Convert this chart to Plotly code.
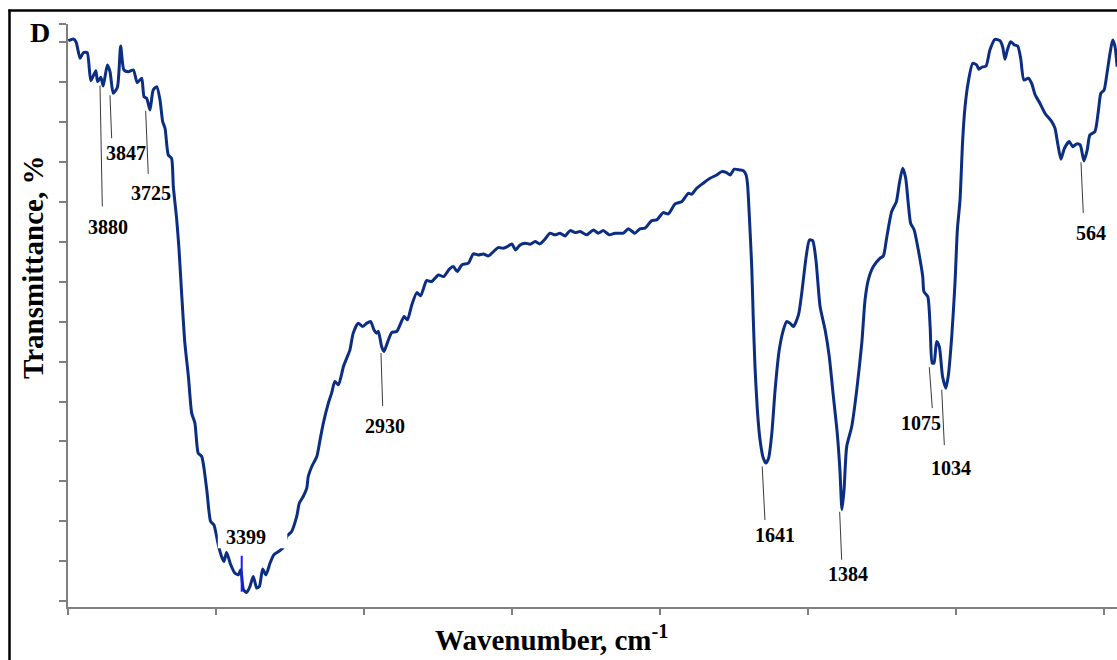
import numpy as np
import plotly.graph_objects as go

# FTIR spectrum, sample D
wavenumber = [
    3999, 3982, 3973, 3959, 3948, 3935, 3923, 3906, 3900, 3889, 3881, 3867, 3858, 3847, 3833,
    3822, 3811, 3796, 3779, 3766, 3751, 3743, 3734, 3723, 3712, 3700, 3689, 3680, 3672, 3661,
    3650, 3644, 3633, 3625, 3616, 3605, 3593, 3582, 3571, 3560, 3548, 3531, 3518, 3507, 3492,
    3481, 3473, 3464, 3450, 3436, 3424, 3416, 3407, 3396, 3385, 3374, 3362, 3353, 3342, 3331,
    3317, 3304, 3283, 3270, 3261, 3244, 3227, 3218, 3205, 3193, 3188, 3176, 3159, 3148, 3137,
    3120, 3109, 3098, 3086, 3069, 3058, 3047, 3036, 3019, 3004, 2990, 2977, 2966, 2957, 2951,
    2940, 2932, 2921, 2906, 2889, 2864, 2853, 2838, 2821, 2808, 2788, 2771, 2748, 2731, 2711,
    2698, 2684, 2669, 2647, 2630, 2613, 2596, 2579, 2562, 2546, 2529, 2515, 2500, 2487, 2472,
    2455, 2438, 2421, 2405, 2388, 2371, 2354, 2337, 2320, 2303, 2286, 2269, 2247, 2224, 2208,
    2191, 2170, 2151, 2123, 2106, 2084, 2067, 2050, 2027, 2010, 1988, 1971, 1948, 1926, 1903,
    1892, 1875, 1853, 1830, 1807, 1791, 1774, 1762, 1748, 1729, 1717, 1708, 1703, 1697, 1689,
    1684, 1678, 1670, 1661, 1650, 1641, 1632, 1621, 1610, 1596, 1582, 1571, 1560, 1548, 1531,
    1520, 1505, 1494, 1483, 1472, 1458, 1441, 1427, 1413, 1400, 1391, 1384, 1377, 1368, 1351,
    1334, 1317, 1306, 1295, 1278, 1255, 1244, 1233, 1216, 1200, 1190, 1179, 1169, 1160, 1152,
    1140, 1126, 1111, 1107, 1094, 1086, 1079, 1073, 1064, 1055, 1044, 1033, 1025, 1013, 1002,
    994, 985, 976, 968, 957, 942, 929, 921, 912, 897, 884, 867, 850, 841, 833,
    825, 814, 801, 790, 780, 769, 754, 743, 731, 715, 698, 675, 664, 655, 644,
    632, 616, 604, 591, 579, 566, 555, 546, 529, 517, 509, 498, 489, 478, 469,
    461, 454,
]
transmittance = [
    90.12, 90.34, 90.00, 87.92, 88.62, 88.62, 85.12, 86.37, 85.00, 85.55, 84.46, 87.08, 86.25, 83.55, 84.30,
    89.46, 86.46, 86.25, 86.46, 84.87, 85.42, 83.12, 82.92, 81.46, 83.96, 84.37, 82.71, 80.00, 79.17, 75.83,
    75.42, 71.87, 67.92, 64.17, 58.55, 52.30, 48.12, 43.55, 42.30, 38.55, 38.12, 33.96, 30.00, 29.58, 27.08,
    25.62, 25.00, 26.12, 24.58, 23.55, 23.33, 23.96, 21.46, 21.12, 21.87, 23.12, 21.67, 21.87, 24.05, 23.33,
    24.80, 25.83, 26.37, 26.87, 28.12, 28.75, 30.62, 32.30, 33.12, 34.17, 35.62, 36.87, 38.12, 40.21, 42.30,
    44.80, 46.05, 47.50, 47.08, 49.37, 50.42, 51.46, 53.55, 54.80, 54.37, 54.80, 55.00, 53.96, 53.55, 53.75,
    51.87, 51.25, 52.30, 53.62, 53.75, 55.62, 55.21, 57.08, 58.62, 58.21, 60.12, 60.00, 60.83, 60.62, 61.55,
    61.87, 61.25, 62.08, 62.30, 63.46, 63.33, 63.46, 63.21, 63.75, 64.25, 64.17, 64.37, 64.71, 63.96, 64.58,
    64.80, 64.67, 65.00, 64.71, 65.30, 66.05, 65.84, 66.05, 65.71, 66.37, 66.12, 66.25, 65.84, 66.46, 66.05,
    66.37, 65.84, 66.05, 66.05, 66.59, 66.05, 66.59, 66.67, 67.62, 67.71, 68.62, 68.46, 69.71, 69.99, 71.05,
    70.92, 71.67, 72.30, 72.92, 73.33, 73.75, 73.62, 73.33, 74.05, 73.96, 73.87, 73.33, 72.08, 68.12, 61.87,
    55.62, 49.37, 43.96, 40.21, 37.92, 37.30, 37.92, 41.05, 46.46, 51.46, 53.96, 55.00, 54.80, 54.37, 55.83,
    58.55, 63.12, 65.21, 65.12, 62.71, 56.87, 53.96, 50.62, 45.62, 41.05, 36.46, 31.46, 33.96, 39.37, 41.87,
    46.46, 52.30, 57.71, 60.21, 61.87, 62.92, 63.21, 65.46, 68.75, 70.00, 72.30, 74.17, 73.02, 69.80, 67.30,
    66.46, 63.96, 60.62, 58.75, 58.12, 54.37, 49.80, 49.80, 52.50, 51.87, 48.12, 46.67, 48.12, 53.12, 59.80,
    66.46, 70.21, 77.71, 81.87, 85.00, 87.30, 87.09, 86.55, 86.80, 86.96, 88.96, 90.30, 90.12, 89.37, 87.80,
    88.96, 90.00, 89.58, 89.46, 87.92, 85.21, 85.42, 84.80, 83.34, 82.30, 81.05, 80.00, 79.17, 77.30, 75.30,
    76.67, 77.50, 76.87, 77.21, 77.09, 75.09, 76.46, 78.34, 78.75, 81.46, 83.55, 83.96, 85.84, 88.55, 90.21,
    89.37, 86.87,
]

# labelled band positions, cm-1
peak_labels = [3880, 3847, 3725, 3399, 2930, 1641, 1384, 1075, 1034, 564]

# axis scales
x_ticks = [4000, 3500, 3000, 2500, 2000, 1500, 1000, 500]
x_range = [4000, 454.4]
y_ticks = [20, 25, 30, 35, 40, 45, 50, 55, 60, 65, 70, 75, 80, 85, 90, 92.2]
y_range = [19.3, 92.21]

W, H = 1117, 660
ML, MR, MT, MB = 68, 0, 24, 53

LINE_COLOR = "#0b2d82"
SERIF = "Liberation Serif"

# leader-line and label placement in pixels relative to the band point on the curve:
# (line dx top, line dx bottom, gap below curve, line bottom, text dx, text dy)
leader_style = {
    3880: (-3.5, -1.2, 1.0, 122, 4.5, 143),
    3847: (-3.3, -1.6, 2.0, 45, 12.7, 60),
    3725: (-3.7, -1.1, 3.0, 66, 1.6, 85),
    2930: (-3.6, -1.9, 3.0, 56, 0.4, 76),
    1641: (-3.7, -1.0, 3.4, 57, 9.0, 72),
    1384: (-2.3, -0.3, 2.0, 50, 5.7, 64),
    1075: (-4.1, -1.1, 4.0, 45, -12.4, 60),
    1034: (-3.8, -1.2, 2.7, 58, 5.0, 81),
    564: (-3.6, -1.3, 3.4, 54, 6.1, 74),
}

wn_arr = np.array(wavenumber, dtype=float)
t_arr = np.array(transmittance, dtype=float)


def curve_at(wn):
    return float(np.interp(wn, wn_arr[::-1], t_arr[::-1]))


def paper_x(px):
    return (px - ML) / (W - ML - MR)


def paper_y(py):
    return (H - MB - py) / (H - MT - MB)


fig = go.Figure()
fig.add_trace(go.Scatter(
    x=wavenumber, y=transmittance, mode="lines",
    line=dict(color=LINE_COLOR, width=3, shape="spline", smoothing=0.6),
    hoverinfo="skip",
))

shapes = []
annotations = []

for wn in peak_labels:
    yv = curve_at(wn)
    if wn == 3399:
        # white patch behind the label and a short blue marker at the band minimum
        shapes.append(dict(
            type="rect", xref="x", yref="y", xsizemode="pixel", ysizemode="pixel",
            xanchor=wn, yanchor=yv, x0=-28, x1=41.5, y0=43.5, y1=66,
            fillcolor="white", line=dict(width=0), layer="above",
        ))
        shapes.append(dict(
            type="line", xref="x", yref="y", xsizemode="pixel", ysizemode="pixel",
            xanchor=wn, yanchor=yv, x0=-4.1, x1=-4.1, y0=0, y1=36,
            line=dict(color="#1a1aff", width=2), layer="above",
        ))
        annotations.append(dict(
            x=wn, y=yv, xref="x", yref="y", text="<b>3399</b>", showarrow=False,
            xshift=0.5, yshift=55, font=dict(family=SERIF, size=20, color="black"),
        ))
        continue
    dx0, dx1, gap, bottom, tdx, tdy = leader_style[wn]
    shapes.append(dict(
        type="line", xref="x", yref="y", xsizemode="pixel", ysizemode="pixel",
        xanchor=wn, yanchor=yv, x0=dx0, x1=dx1, y0=-gap, y1=-bottom,
        line=dict(color="#3a3a3a", width=1), layer="above",
    ))
    annotations.append(dict(
        x=wn, y=yv, xref="x", yref="y", text=f"<b>{wn}</b>", showarrow=False,
        xshift=tdx, yshift=-tdy, font=dict(family=SERIF, size=20, color="black"),
    ))

# outer frame (left and top edges)
shapes.append(dict(type="line", xref="paper", yref="paper",
                   x0=paper_x(9.5), x1=paper_x(9.5), y0=paper_y(9.5), y1=paper_y(680),
                   line=dict(color="black", width=2.5), layer="above"))
shapes.append(dict(type="line", xref="paper", yref="paper",
                   x0=paper_x(8.3), x1=paper_x(1130), y0=paper_y(10.5), y1=paper_y(10.5),
                   line=dict(color="black", width=2.5), layer="above"))

# panel letter and axis titles
annotations.append(dict(
    x=paper_x(40), y=paper_y(32), xref="paper", yref="paper", text="<b>D</b>",
    showarrow=False, font=dict(family=SERIF, size=28, color="black"),
    xanchor="center", yanchor="middle",
))
annotations.append(dict(
    x=paper_x(33), y=paper_y(268), xref="paper", yref="paper", text="<b>Transmittance, %</b>",
    showarrow=False, textangle=-90, font=dict(family=SERIF, size=29, color="black"),
    xanchor="center", yanchor="middle",
))
annotations.append(dict(
    x=paper_x(551.5), y=paper_y(638), xref="paper", yref="paper",
    text="<b>Wavenumber, cm<sup>-1</sup></b>",
    showarrow=False, font=dict(family=SERIF, size=29, color="black"),
    xanchor="center", yanchor="middle",
))

fig.update_layout(
    width=W, height=H,
    margin=dict(l=ML, r=MR, t=MT, b=MB, pad=0),
    paper_bgcolor="white", plot_bgcolor="white",
    showlegend=False,
    shapes=shapes, annotations=annotations,
    xaxis=dict(
        range=x_range, tickvals=x_ticks, showticklabels=False,
        ticks="outside", ticklen=6, tickwidth=1.5, tickcolor="#7f7f7f",
        showline=True, linecolor="#7f7f7f", linewidth=1.5,
        showgrid=False, zeroline=False,
    ),
    yaxis=dict(
        range=y_range, tickvals=y_ticks, showticklabels=False,
        ticks="outside", ticklen=7, tickwidth=1.5, tickcolor="#7f7f7f",
        showline=True, linecolor="#7f7f7f", linewidth=1.5,
        showgrid=False, zeroline=False,
    ),
)

fig.write_html("out.html")
